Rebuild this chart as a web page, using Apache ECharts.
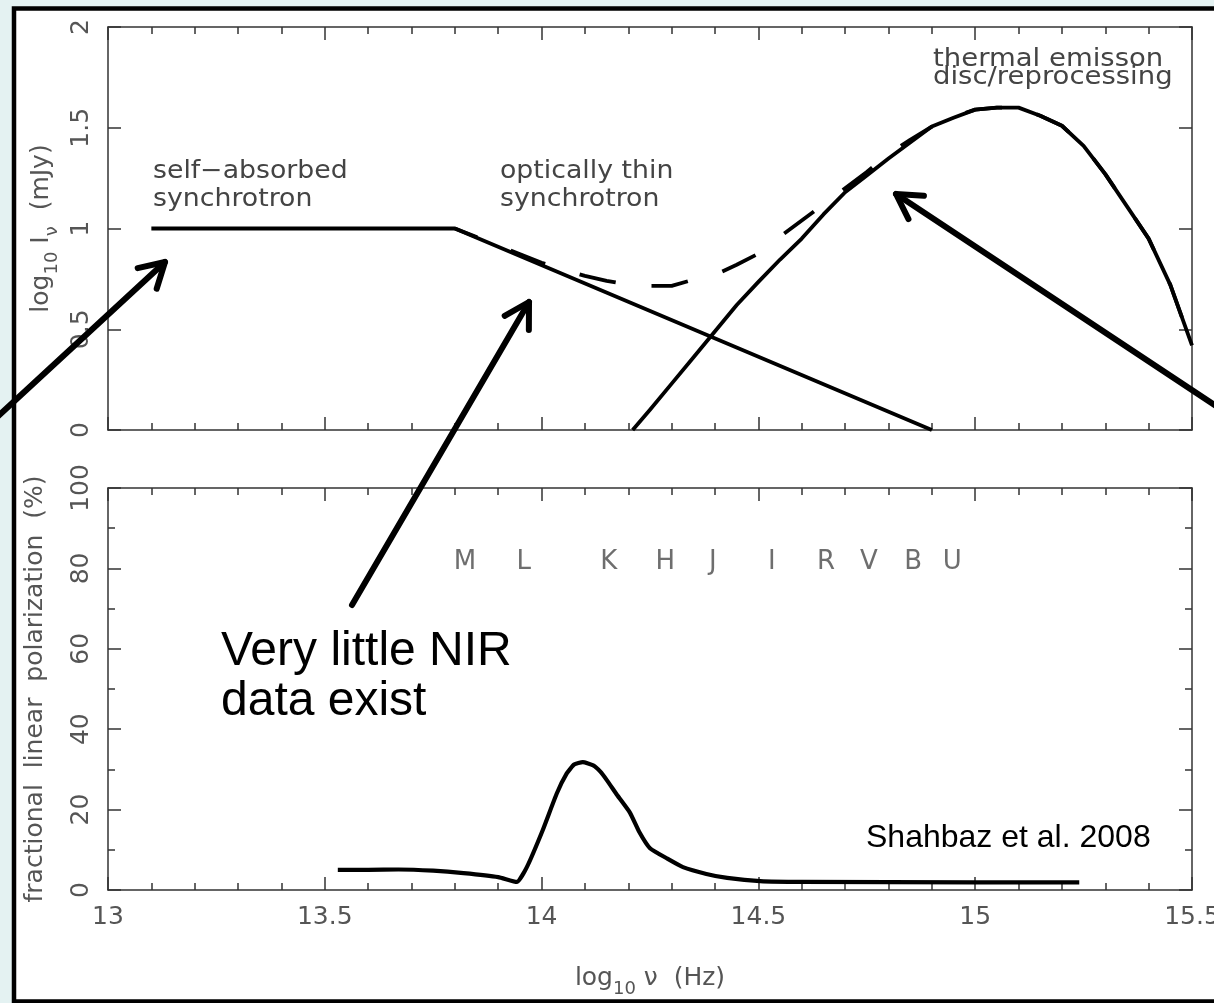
<!DOCTYPE html>
<html>
<head>
<meta charset="utf-8">
<script src="https://cdn.jsdelivr.net/npm/echarts/dist/echarts.min.js"></script>
<style>
html,body{margin:0;padding:0;background:#e4f2f2;}
#c{width:1214px;height:1003px;}
</style>
</head>
<body>
<div id="c"></div>
<script>
// ---------- data ----------
const xTickValues = [13, 13.5, 14, 14.5, 15, 15.5];
const fluxTicks = [0, 0.5, 1, 1.5, 2];
const polTicks = [0, 20, 40, 60, 80, 100];

// self-absorbed / optically thin synchrotron (log10 nu, log10 I)
const synchrotron = [[13.1, 1.0], [13.8, 1.0], [14.9, 0.0]];

// thermal emission (disc / reprocessing)
const thermal = [
  [14.21, 0.0], [14.25, 0.10], [14.3, 0.23], [14.35, 0.36], [14.4, 0.49],
  [14.45, 0.62], [14.5, 0.735], [14.55, 0.846], [14.6, 0.95], [14.65, 1.07],
  [14.7, 1.18], [14.75, 1.263], [14.8, 1.347], [14.85, 1.427], [14.9, 1.506],
  [14.95, 1.55], [15.0, 1.59], [15.05, 1.60], [15.1, 1.60], [15.15, 1.56],
  [15.2, 1.51], [15.25, 1.41], [15.3, 1.27], [15.35, 1.11], [15.4, 0.95],
  [15.45, 0.72], [15.5, 0.42]
];

// total (dashed)
const total = [
  [13.8, 1.0], [13.9, 0.915], [14.0, 0.83], [14.05, 0.795], [14.1, 0.765],
  [14.15, 0.74], [14.2, 0.722], [14.25, 0.715], [14.3, 0.715], [14.34, 0.74],
  [14.4, 0.77], [14.45, 0.82], [14.5, 0.875], [14.55, 0.96], [14.6, 1.04],
  [14.65, 1.12], [14.7, 1.20], [14.75, 1.28], [14.8, 1.37], [14.85, 1.44],
  [14.9, 1.505], [14.95, 1.555], [15.0, 1.59], [15.05, 1.60], [15.1, 1.60],
  [15.15, 1.56], [15.2, 1.51], [15.25, 1.41], [15.3, 1.27], [15.35, 1.11],
  [15.4, 0.95], [15.45, 0.72], [15.5, 0.42]
];

// fractional linear polarization (%)
const polarization = [
  [13.53, 5.0], [13.6, 5.0], [13.67, 5.1], [13.75, 4.8], [13.82, 4.2],
  [13.9, 3.2], [13.943, 2.0], [13.966, 5.7], [14.003, 15.0], [14.035, 24.0],
  [14.058, 29.0], [14.075, 31.2], [14.095, 31.8], [14.119, 31.0], [14.135, 29.5],
  [14.15, 27.4], [14.175, 23.5], [14.204, 19.2], [14.225, 14.5], [14.25, 10.4],
  [14.29, 7.8], [14.326, 5.7], [14.38, 4.0], [14.428, 3.0], [14.504, 2.2],
  [14.6, 2.0], [15.0, 1.9], [15.24, 1.9]
];

// photometric bands
const bandNames = ['M', 'L', 'K', 'H', 'J', 'I', 'R', 'V', 'B', 'U'];
const bandX = [13.823, 13.959, 14.155, 14.285, 14.395, 14.531, 14.656, 14.755, 14.857, 14.947];
const bandLevel = 81.5;

// ---------- chart ----------
const FONT = '"DejaVu Sans", sans-serif';
const AX = '#333';
const LBL = '#555';

function xAxis(grid, pos, showLabel) {
  return {
    type: 'value', gridIndex: grid, position: pos,
    min: 13, max: 15.5, interval: 0.5,
    axisLine: { show: true, onZero: false, lineStyle: { color: AX, width: 1.5 } },
    axisTick: { show: true, inside: true, length: 13, lineStyle: { color: AX, width: 1.5 } },
    minorTick: { show: true, splitNumber: 5, length: 7, lineStyle: { color: AX, width: 1.5 } },
    splitLine: { show: false }, minorSplitLine: { show: false },
    axisLabel: {
      show: showLabel, fontSize: 25, fontFamily: FONT, color: LBL, margin: 15,
      hideOverlap: false,
      formatter: v => (xTickValues.indexOf(v) >= 0 ? String(v) : '')
    }
  };
}
function yAxis(grid, pos, min, max, interval, minor, showLabel, ticks) {
  return {
    type: 'value', gridIndex: grid, position: pos,
    min: min, max: max, interval: interval,
    axisLine: { show: true, onZero: false, lineStyle: { color: AX, width: 1.5 } },
    axisTick: { show: true, inside: true, length: 13, lineStyle: { color: AX, width: 1.5 } },
    minorTick: { show: minor, splitNumber: 2, length: 7, lineStyle: { color: AX, width: 1.5 } },
    splitLine: { show: false }, minorSplitLine: { show: false },
    axisLabel: {
      show: showLabel, rotate: 90, fontSize: 25, fontFamily: FONT, color: LBL, margin: 14,
      formatter: v => (ticks.indexOf(v) >= 0 ? String(v) : '')
    }
  };
}

const subRich = {
  a: { fontSize: 25, lineHeight: 40, fontFamily: FONT, color: LBL, verticalAlign: 'middle' },
  s: { fontSize: 18, lineHeight: 12, fontFamily: FONT, color: LBL, verticalAlign: 'bottom' }
};

const xAxes = [xAxis(0, 'bottom', false), xAxis(0, 'top', false), xAxis(1, 'bottom', true), xAxis(1, 'top', false)];
xAxes[2].name = '{a|log}{s|10}{a| ν  (Hz)}';
xAxes[2].nameLocation = 'middle';
xAxes[2].nameGap = 68;
xAxes[2].nameTextStyle = { rich: subRich };

const yAxes = [
  yAxis(0, 'left', 0, 2, 0.5, false, true, fluxTicks),
  yAxis(0, 'right', 0, 2, 0.5, false, false, fluxTicks),
  yAxis(1, 'left', 0, 100, 20, true, true, polTicks),
  yAxis(1, 'right', 0, 100, 20, true, false, polTicks)
];
yAxes[0].name = '{a|log}{s|10}{a| I}{s|ν}{a|  (mJy)}';
yAxes[0].nameLocation = 'middle';
yAxes[0].nameRotate = 90;
yAxes[0].nameGap = 46;
yAxes[0].nameTextStyle = { rich: subRich };
yAxes[2].name = 'fractional  linear  polarization  (%)';
yAxes[2].nameLocation = 'middle';
yAxes[2].nameRotate = 90;
yAxes[2].nameGap = 60;
yAxes[2].nameTextStyle = { fontSize: 25, fontFamily: FONT, color: LBL };

const lineBase = { type: 'line', showSymbol: false, symbol: 'none', animation: false, silent: true, z: 5 };

const option = {
  animation: false,
  textStyle: { fontFamily: FONT },
  grid: [
    { left: 108, top: 27, width: 1084, height: 403, containLabel: false, outerBoundsMode: 'none' },
    { left: 108, top: 488, width: 1084, height: 402, containLabel: false, outerBoundsMode: 'none' }
  ],
  xAxis: xAxes,
  yAxis: yAxes,
  series: [
    Object.assign({}, lineBase, { name: 'synchrotron', xAxisIndex: 0, yAxisIndex: 0, data: synchrotron,
      lineStyle: { color: '#000', width: 3.8 } }),
    Object.assign({}, lineBase, { name: 'thermal', xAxisIndex: 0, yAxisIndex: 0, data: thermal,
      smooth: false,
      lineStyle: { color: '#000', width: 3.8, join: 'round' } }),
    Object.assign({}, lineBase, { name: 'total', xAxisIndex: 0, yAxisIndex: 0, data: total,
      smooth: false,
      lineStyle: { color: '#000', width: 3.8, type: [37, 36], dashOffset: 13, cap: 'butt', join: 'round' } }),
    Object.assign({}, lineBase, { name: 'polarization', xAxisIndex: 2, yAxisIndex: 2, data: polarization,
      smooth: 0.15,
      lineStyle: { color: '#000', width: 4.2, join: 'round' } }),
    {
      type: 'scatter', name: 'bands', xAxisIndex: 2, yAxisIndex: 2, silent: true, animation: false,
      symbolSize: 2, itemStyle: { color: 'rgba(0,0,0,0)' },
      data: bandX.map((x, i) => ({ name: bandNames[i], value: [x, bandLevel] })),
      label: { show: true, position: 'inside', formatter: p => p.name, fontSize: 26, fontFamily: FONT, color: '#4a4a4a' }
    }
  ]
};

const chart = echarts.init(document.getElementById('c'), null, { renderer: 'canvas', width: 1214, height: 1003 });
chart.setOption(option);

// ---------- annotations (frame, captions, arrows) ----------
function arrow(tail, tip) {
  const ang = Math.atan2(tail[1] - tip[1], tail[0] - tip[0]);
  const L = 28, a = Math.PI / 6;
  const p1 = [tip[0] + L * Math.cos(ang + a), tip[1] + L * Math.sin(ang + a)];
  const p2 = [tip[0] + L * Math.cos(ang - a), tip[1] + L * Math.sin(ang - a)];
  const st = { stroke: '#000', lineWidth: 6, fill: null, lineCap: 'round', lineJoin: 'round' };
  return [
    { type: 'polyline', z: 100, silent: true, shape: { points: [tail, tip] }, style: st },
    { type: 'polyline', z: 100, silent: true, shape: { points: [p1, tip, p2] }, style: st }
  ];
}
function gray(text, x, y, sx) {
  return { type: 'text', x: x, y: y, scaleX: sx || 1.07, z: 50, silent: true,
    style: { text: text, fontSize: 25, fontFamily: FONT, fill: '#444', verticalAlign: 'middle', align: 'left' } };
}
function black(text, x, y, size) {
  return { type: 'text', x: x, y: y, z: 50, silent: true,
    style: { text: text, fontSize: size, fontFamily: '"Liberation Sans", Arial, sans-serif', fill: '#000', verticalAlign: 'middle', align: 'left' } };
}

const elements = [
  { type: 'rect', z: -10, silent: true, shape: { x: 14, y: 8.5, width: 1220, height: 993 },
    style: { fill: '#fff', stroke: '#000', lineWidth: 4.5 } },
  gray('self−absorbed', 153, 171),
  gray('synchrotron', 153, 199),
  gray('optically thin', 500, 171),
  gray('synchrotron', 500, 199),
  gray('thermal emisson', 933, 59, 1.1),
  gray('disc/reprocessing', 933, 77, 1.1),
  black('Very little NIR', 221, 652, 48),
  black('data exist', 221, 702, 48),
  black('Shahbaz et al. 2008', 866, 838, 32)
].concat(
  arrow([-5, 419], [165, 262]),
  arrow([352, 605], [529, 302]),
  arrow([1216, 406], [896, 194])
);
chart.setOption({ graphic: { elements: elements } });
</script>
</body>
</html>
